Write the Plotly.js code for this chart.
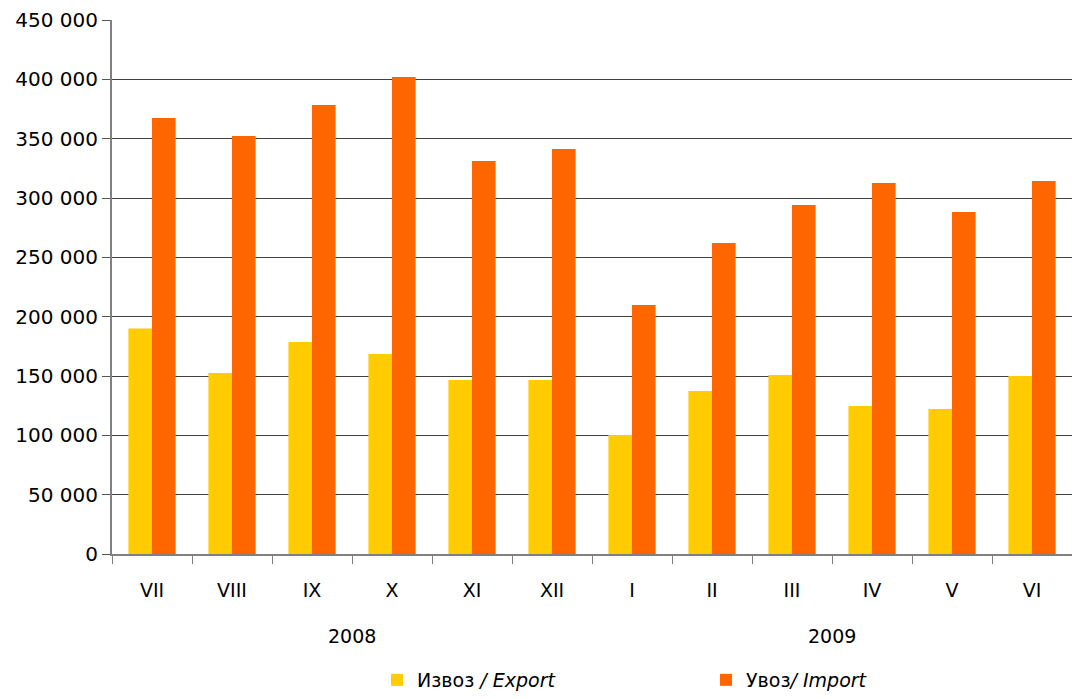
<!DOCTYPE html>
<html>
<head>
<meta charset="utf-8">
<script src="https://cdn.plot.ly/plotly-3.0.1.min.js"></script>
<style>html,body{margin:0;padding:0;background:#fff;}#chart{width:1072px;height:699px;}</style>
</head>
<body>
<div id="chart"></div>
<script>
const months = ['VII','VIII','IX','X','XI','XII','I','II','III','IV','V','VI'];
const exportValues = [190000, 152500, 178600, 168500, 146600, 146600, 100300, 137400, 150800, 124700, 122200, 150000];
const importValues = [367500, 352200, 378400, 402000, 331200, 341300, 209800, 262100, 294100, 312600, 288200, 314300];
const years = ['2008', '2009'];
const yearCenters = [2.5, 8.5];
const seriesNames = ['Извоз <i>/ Export</i>', 'Увоз<i>/ Import</i>'];

const fam = 'DejaVu Sans, Verdana, sans-serif';

const traces = [
  {type: 'bar', x: months, y: exportValues, name: seriesNames[0], marker: {color: '#FFCC00'}, hoverinfo: 'none'},
  {type: 'bar', x: months, y: importValues, name: seriesNames[1], marker: {color: '#FF6600'}, hoverinfo: 'none'}
];

const layout = {
  width: 1072, height: 699,
  margin: {l: 112, r: 0, t: 20, b: 145},
  paper_bgcolor: '#fff', plot_bgcolor: '#fff',
  font: {family: fam, size: 20, color: '#000'},
  separators: ', ',
  barmode: 'group', bargap: 0.41, bargroupgap: 0,
  showlegend: true,
  legend: {
    orientation: 'h', x: 0.6586, xanchor: 'center', xref: 'container',
    y: -0.012, yanchor: 'bottom', yref: 'container',
    entrywidth: 284, entrywidthmode: 'pixels',
    font: {family: fam, size: 19, color: '#000'},
    traceorder: 'normal'
  },
  xaxis: {
    type: 'category', categoryorder: 'array', categoryarray: months,
    showline: true, linecolor: '#808080', linewidth: 2,
    ticks: 'outside', tickson: 'boundaries', ticklen: 8, tickcolor: '#808080', tickwidth: 1,
    showgrid: false, zeroline: false,
    tickfont: {family: fam, size: 19, color: '#000'},
    ticklabelstandoff: 18
  },
  yaxis: {
    range: [0, 450000], dtick: 50000, tickformat: ',d',
    showline: true, linecolor: '#808080', linewidth: 2,
    ticks: 'outside', ticklen: 8, tickcolor: '#555', tickwidth: 1,
    showgrid: true, gridcolor: '#404040', gridwidth: 1,
    zeroline: false,
    tickfont: {family: fam, size: 20, color: '#000'}
  },
  annotations: years.map((yr, i) => ({
    text: yr, x: yearCenters[i], xref: 'x', y: 0, yref: 'paper',
    yshift: -82, showarrow: false, xanchor: 'center', yanchor: 'middle',
    font: {family: fam, size: 19, color: '#000'}
  }))
};

Plotly.newPlot('chart', traces, layout, {staticPlot: true, displayModeBar: false});
</script>
</body>
</html>
